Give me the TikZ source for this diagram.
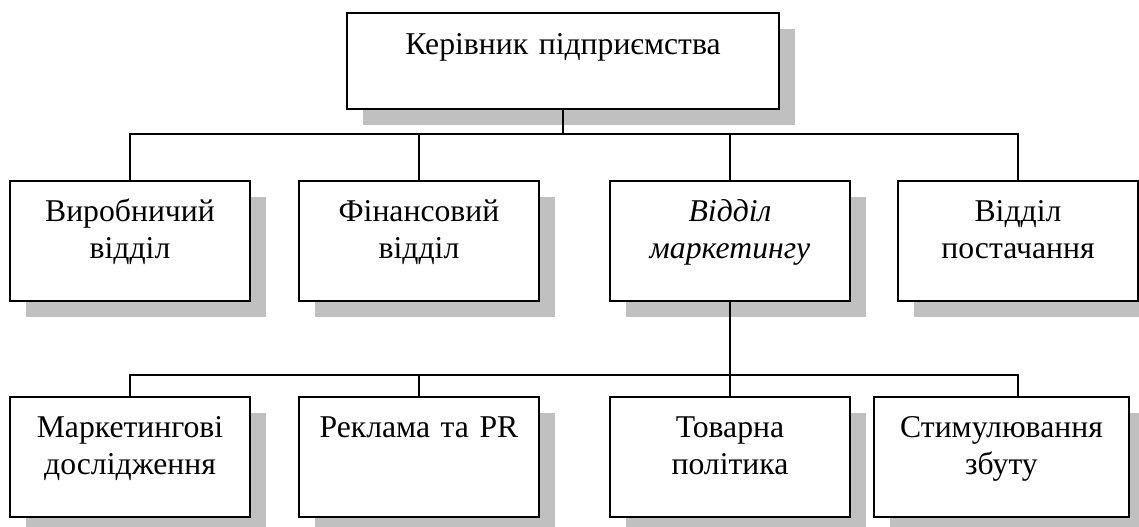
\documentclass[tikz,border=0pt]{standalone}
\usepackage{fontspec}
\setmainfont{Liberation Serif}
\usetikzlibrary{shadows}
\definecolor{shadowgray}{RGB}{192,192,192}

\begin{document}
\begin{tikzpicture}[
    x = 0.5pt, y = -0.5pt,
    font = \fontsize{15.85pt}{18.35pt}\selectfont,
    unit/.style = {draw, fill = white, line width = 1pt, inner sep = 0pt,
        anchor = north west, align = center,
        text width = 120pt, text height = 20.25pt, text depth = 39.75pt,
        general shadow = {fill = shadowgray, shadow xshift = 8pt, shadow yshift = -8pt}},
    link/.style = {line width = 1pt}]
\useasboundingbox (0,0) rectangle (1139,526);

% top level
\node[unit, text width = 216pt, text height = 20.5pt, text depth = 27.5pt] (boss) at (346,12) {Керівник підприємства};

% departments
\node[unit] (prod) at (9,180) {Виробничий\\відділ};
\node[unit] (fin) at (298,180) {Фінансовий\\відділ};
\node[unit] (mkt) at (609,180) {\itshape Відділ\\\itshape маркетингу};
\node[unit] (sup) at (897,180) {Відділ\\постачання};

% marketing units
\node[unit] (res) at (9,396) {Маркетингові\\дослідження};
\node[unit] (adv) at (298,396) {Реклама та PR};
\node[unit] (goods) at (609,396) {Товарна\\політика};
\node[unit, text width = 127.5pt] (stim) at (873,396) {Стимулювання\\збуту};

\coordinate (busA) at ([yshift=-12pt]boss.south);
\coordinate (busB) at ([yshift=-36.25pt]mkt.south);

\draw[link] (boss.south) -- (busA);
\foreach \n in {prod,fin,mkt,sup}
    \draw[link] (busA) -| (\n.north);

\draw[link] (mkt.south) -- (busB);
\foreach \n in {res,adv,goods}
    \draw[link] (busB) -| (\n.north);
\draw[link] (busB) -| (sup.south |- stim.north);
\end{tikzpicture}
\end{document}
